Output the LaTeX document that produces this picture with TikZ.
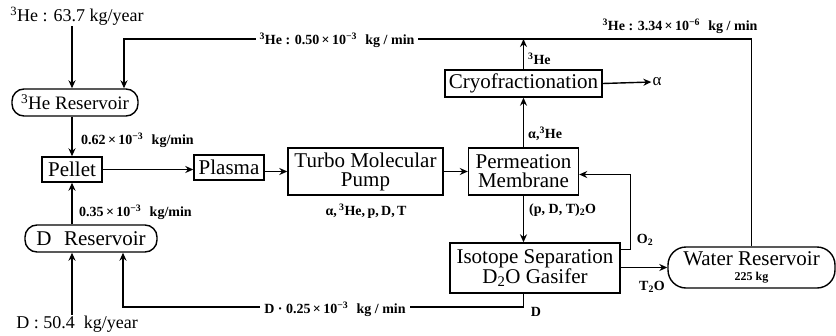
\documentclass[tikz,border=0pt]{standalone}
\usepackage{fontspec}
\setmainfont{Liberation Serif}
\usetikzlibrary{arrows.meta}
\newcommand{\tms}{\,×\,}
\begin{document}
\begin{tikzpicture}[x=1pt,y=-1pt,
  box/.style={draw,line width=1.4pt,inner sep=0.5pt,font=\fontsize{21}{19}\selectfont,align=center},
  res/.style={box,rounded corners=12pt},
  lab/.style={inner sep=1pt,font=\fontsize{14}{14}\selectfont\bfseries},
  big/.style={inner sep=1pt,font=\fontsize{18}{18}\selectfont},
  arr/.style={line width=1.4pt,-{Stealth[length=8pt,width=7pt]}},
  ln/.style={line width=1.4pt}]
\useasboundingbox (0,0) rectangle (836,335);
% nodes
\node[res,minimum width=126,minimum height=27,font=\fontsize{19}{19}\selectfont] (he3res) at (75,102.5) {\textsuperscript{3}He Reservoir};
\node[box,minimum width=60,minimum height=25] (pellet) at (72,169.5) {Pellet};
\node[box,minimum width=70,minimum height=25] (plasma) at (229,167.5) {Plasma};
\node[box,minimum width=155,minimum height=47] (turbo) at (365.5,171.5) {Turbo Molecular\\Pump};
\node[box,minimum width=110,minimum height=47] (perm) at (523.5,171.5) {Permeation\\Membrane};
\node[box,minimum width=157,minimum height=27] (cryo) at (523.5,83.5) {Cryofractionation};
\node[box,minimum width=170,minimum height=50] (iso) at (535,268) {Isotope Separation\\D\textsubscript{2}O Gasifer};
\node[res,minimum width=132,minimum height=27] (dres) at (91,238.5) {D\hspace{0.6em}Reservoir};
\node[res,minimum width=167,minimum height=41,rounded corners=18pt] (water) at (751.5,267.5) {Water Reservoir\\[-4pt]{\fontsize{12}{12}\selectfont\bfseries 225 kg}};
% labels
\node[big] (he3in) at (77,16) {\textsuperscript{3}He : 63.7 kg/year};
\node[big] (din) at (77,324) {D : 50.4\hspace{0.5em}kg/year};
\node[lab,anchor=west] (l062) at (80,140) {0.62\tms10\textsuperscript{−3}\hspace{0.6em}kg/min};
\node[lab,anchor=west] (l035) at (78,212) {0.35\tms10\textsuperscript{−3}\hspace{0.6em}kg/min};
\node[lab] (lturbo) at (366,211) {α,\,\textsuperscript{3}He,\,p,\,D,\,T};
\node[lab,anchor=west] (lahe) at (527,134) {α,\textsuperscript{3}He};
\node[lab,anchor=west] (lhe) at (527,59) {\textsuperscript{3}He};
\node[lab,font=\fontsize{17}{17}\selectfont] (alpha) at (657,82) {α};
\node[lab,anchor=west] (lpdt) at (528,210) {(p, D, T)\textsubscript{2}O};
\node[lab] (lo2) at (645,240) {O\textsubscript{2}};
\node[lab] (lt2o) at (652,287) {T\textsubscript{2}O};
\node[lab] (ld) at (536,312) {D};
\coordinate (c1) at (124,39);
\coordinate (d1) at (123,307);
% connectors
\draw[arr] (pellet.north |- he3in.south) -- (pellet.north |- he3res.north);
\draw[arr] (water.north) -- (water.north |- c1) -- (c1) -- (c1 |- he3res.north);
\node[lab,fill=white,inner xsep=4pt] (l050) at (337,40) {\textsuperscript{3}He : 0.50\tms10\textsuperscript{−3}\hspace{0.6em}kg / min};
\node[lab] (l334) at (680,26) {\textsuperscript{3}He : 3.34\tms10\textsuperscript{−6}\hspace{0.6em}kg / min};
\draw[arr] (cryo.north) -- (cryo.north |- c1);
\draw[arr] (pellet.north |- he3res.south) -- (pellet.north);
\draw[arr] (pellet.south |- dres.north) -- (pellet.south);
\draw[arr] (pellet.south |- din.north) -- (pellet.south |- dres.south);
\draw[arr] (pellet.east) -- (plasma.west |- pellet.east);
\draw[arr] (plasma.east |- turbo.west) -- (turbo.west);
\draw[arr] (turbo.east) -- (perm.west);
\draw[arr] (perm.north) -- (cryo.south);
\draw[arr] (cryo.east) -- (alpha.west);
\draw[arr] (perm.south) -- (perm.south |- iso.north);
\draw[arr] (perm.south |- iso.south) -- (perm.south |- d1) -- (d1) -- (d1 |- dres.south);
\node[lab,fill=white,inner xsep=4pt] (l025) at (335,309) {D · 0.25\tms10\textsuperscript{−3}\hspace{0.6em}kg / min};
\draw[arr] ([yshift=-7pt]iso.north east) -- ++(10,0) |- ([yshift=-3pt]perm.east);
\draw[arr] (iso.east |- water.west) -- (water.west);
\end{tikzpicture}
\end{document}
